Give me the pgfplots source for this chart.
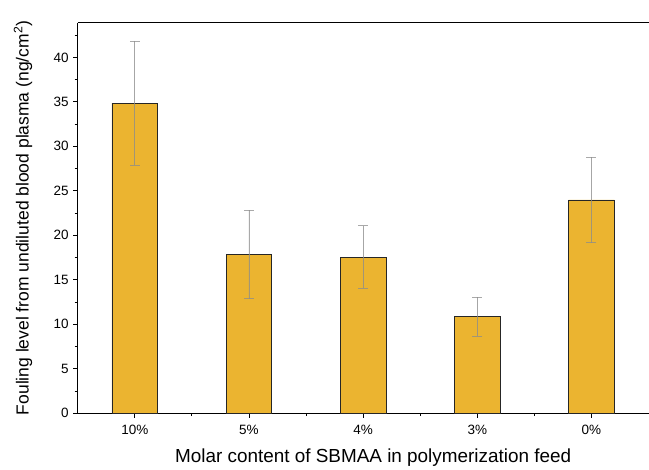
\documentclass[border=0pt]{standalone}
\usepackage{fontspec}
\setmainfont{Liberation Sans}
\usepackage{pgfplots}
\pgfplotsset{compat=1.18}
\definecolor{barc}{HTML}{EBB430}
\definecolor{errc}{HTML}{8C8C8C}
\begin{document}
\begin{tikzpicture}
\begin{axis}[
  scale only axis, width=571pt, height=390.6pt,
  xmin=-0.5, xmax=4.5, ymin=0, ymax=43.9,
  axis x line=box, axis y line=left,
  axis line style={-, line width=0.9pt, black},
  xtick={0,1,2,3,4},
  xticklabels={10\%,5\%,4\%,3\%,0\%},
  minor xtick={0.5,1.5,2.5,3.5},
  ytick={0,5,...,40},
  minor ytick={2.5,7.5,...,42.5},
  xtick pos=bottom, ytick pos=left,
  tick align=outside,
  major tick length=4.5pt, minor tick length=3pt,
  tick style={line width=0.8pt, black},
  /pgf/number format/assume math mode=true,
  tick label style={font=\fontsize{13.5}{15}\selectfont},
  yticklabel style={xshift=-1pt},
  xticklabel style={yshift=-4pt},
  xlabel={Molar content of SBMAA in polymerization feed},
  ylabel={Fouling level from undiluted blood plasma (ng/cm\textsuperscript{2})},
  every axis x label/.style={at={(axis description cs:0.5,0)}, anchor=base, yshift=-49.5pt, xshift=10pt, font=\fontsize{18.9}{21}\selectfont},
  every axis y label/.style={at={(axis description cs:0,0.5)}, rotate=90, anchor=base, yshift=49pt, font=\fontsize{17.5}{20}\selectfont},
  clip=false,
]
\addplot[ybar, bar width=0.4, fill=barc, draw=black!85, line width=0.7pt,
  error bars/.cd, y dir=both, y explicit,
  error bar style={errc, opacity=0.75, line width=0.8pt},
  error mark options={rotate=90, mark size=5pt, errc, opacity=0.75, line width=0.8pt}]
  coordinates {
    (0,34.85) +- (0,7.0)
    (1,17.85) +- (0,4.98)
    (2,17.56) +- (0,3.52)
    (3,10.86) +- (0,2.17)
    (4,23.97) +- (0,4.8)
  };
\coordinate (tl) at (rel axis cs:0,1);
\coordinate (br) at (rel axis cs:1,0);
\end{axis}
\path (tl) ++(-77.7pt,22.7pt) coordinate (a);
\path (br) ++(0,-52.7pt) coordinate (b);
\path (a) rectangle (b);
\end{tikzpicture}
\end{document}
